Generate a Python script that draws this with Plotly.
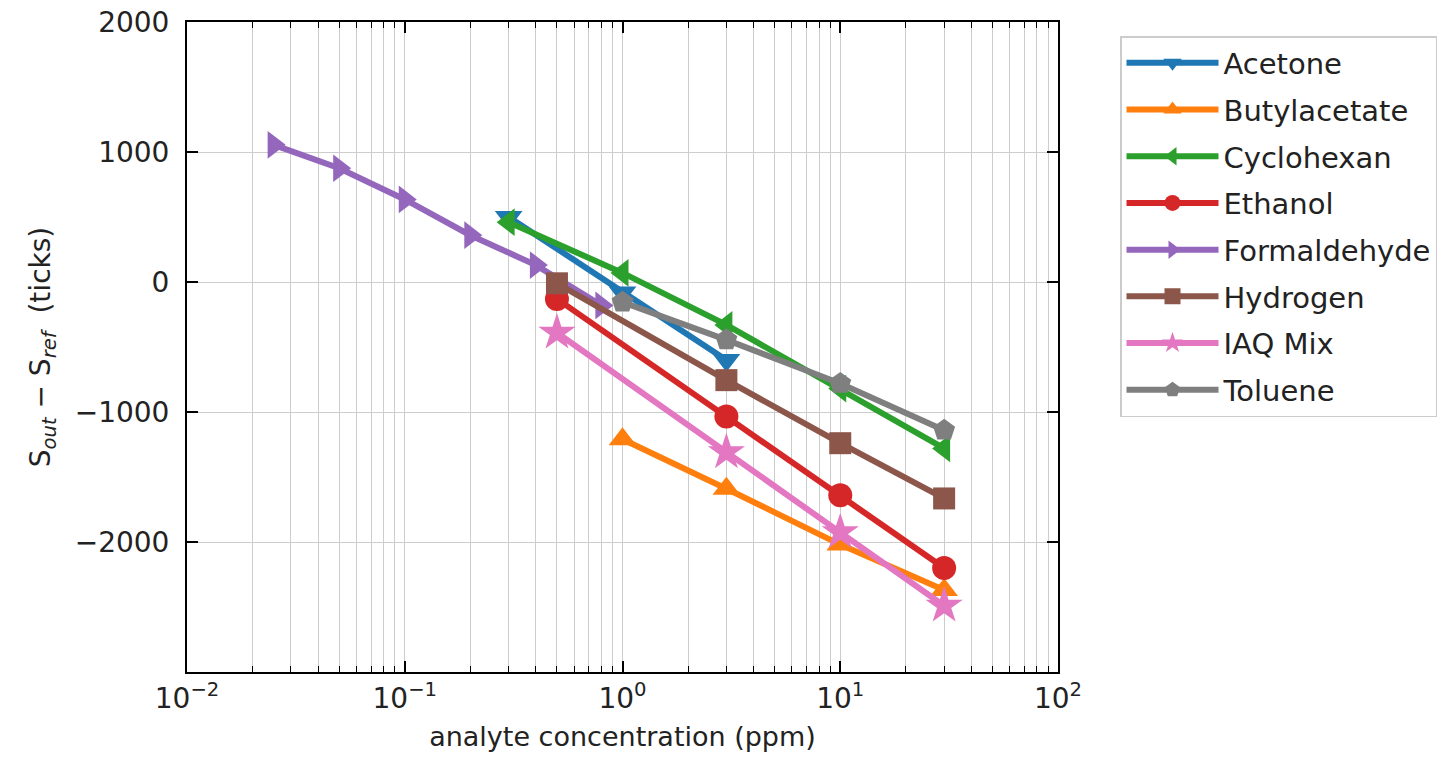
import plotly.graph_objects as go

# Sensor response vs. analyte concentration (log-scale x)
names = ["Acetone", "Butylacetate", "Cyclohexan", "Ethanol",
         "Formaldehyde", "Hydrogen", "IAQ Mix", "Toluene"]

acetone_x = [0.3, 1, 3]
acetone_y = [500, -80, -600]

butylacetate_x = [1, 3, 10, 30]
butylacetate_y = [-1210, -1590, -2020, -2370]

cyclohexan_x = [0.3, 1, 3, 10, 30]
cyclohexan_y = [460, 70, -330, -820, -1280]

ethanol_x = [0.5, 3, 10, 30]
ethanol_y = [-130, -1035, -1640, -2200]

formaldehyde_x = [0.025, 0.05, 0.1, 0.2, 0.4, 0.8]
formaldehyde_y = [1055, 875, 635, 360, 130, -180]

hydrogen_x = [0.5, 3, 10, 30]
hydrogen_y = [-10, -755, -1240, -1665]

iaq_x = [0.5, 3, 10, 30]
iaq_y = [-390, -1310, -1925, -2490]

toluene_x = [1, 3, 10, 30]
toluene_y = [-155, -445, -780, -1140]

xs = [acetone_x, butylacetate_x, cyclohexan_x, ethanol_x,
      formaldehyde_x, hydrogen_x, iaq_x, toluene_x]
ys = [acetone_y, butylacetate_y, cyclohexan_y, ethanol_y,
      formaldehyde_y, hydrogen_y, iaq_y, toluene_y]

colors = ["#1f77b4", "#ff7f0e", "#2ca02c", "#d62728",
          "#9467bd", "#8c564b", "#e377c2", "#7f7f7f"]
symbols = ["triangle-down", "triangle-up", "triangle-left", "circle",
           "triangle-right", "square", "star", "pentagon"]
sizes = [24, 24, 24, 24, 24, 22, 28, 23]

x_ticks = [0.01, 0.1, 1, 10, 100]
x_ticktext = ["10<sup>−2</sup>", "10<sup>−1</sup>", "10<sup>0</sup>",
              "10<sup>1</sup>", "10<sup>2</sup>"]
y_ticks = [-2000, -1000, 0, 1000, 2000]
y_ticktext = ["−2000", "−1000", "0", "1000", "2000"]

FONT = "DejaVu Sans"
fig = go.Figure()
for i, name in enumerate(names):
    fig.add_trace(go.Scatter(
        x=xs[i], y=ys[i], name=name, mode="lines+markers",
        legendgroup=name,
        line=dict(color=colors[i], width=6),
        marker=dict(symbol=symbols[i], size=sizes[i], color=colors[i],
                    line=dict(width=0)),
    ))

grid_col = "#cdcdcd"
fig.update_layout(
    width=1440, height=765,
    margin=dict(l=187, r=382, t=22, b=93, autoexpand=False),
    paper_bgcolor="white", plot_bgcolor="white",
    font=dict(family=FONT, size=26, color="#222222"),
    showlegend=True,
    legend=dict(
        xref="container", yref="container",
        x=1120 / 1440, y=1 - 36 / 765, xanchor="left", yanchor="top",
        bgcolor="white", bordercolor="#cccccc", borderwidth=1.5,
        font=dict(family=FONT, size=29, color="#222222"),
        traceorder="grouped", tracegroupgap=6, itemwidth=92,
    ),
    xaxis=dict(
        type="log", range=[-2, 2],
        tickvals=x_ticks, ticktext=x_ticktext,
        ticks="inside", ticklen=11, tickwidth=2, tickcolor="black",
        showline=True, linecolor="black", linewidth=2, mirror="ticks",
        showgrid=True, gridcolor=grid_col, gridwidth=1,
        tickfont=dict(size=28),
        minor=dict(dtick="D1", ticks="inside", ticklen=6, tickwidth=1.2,
                   tickcolor="black", showgrid=True, gridcolor=grid_col,
                   gridwidth=1),
        title=dict(text="analyte concentration (ppm)", standoff=14,
                   font=dict(size=27)),
        zeroline=False,
    ),
    yaxis=dict(
        range=[-3000, 2000],
        tickvals=y_ticks, ticktext=y_ticktext,
        ticks="inside", ticklen=11, tickwidth=2, tickcolor="black",
        showline=True, linecolor="black", linewidth=2, mirror="ticks",
        showgrid=True, gridcolor=grid_col, gridwidth=1,
        tickfont=dict(size=28),
        ticklabelstandoff=10,
        title=dict(text="S<sub><i>out</i></sub> − S<sub><i>ref</i></sub>  (ticks)",
                   standoff=16, font=dict(size=28)),
        zeroline=False,
    ),
)

fig.write_html("out.html")
